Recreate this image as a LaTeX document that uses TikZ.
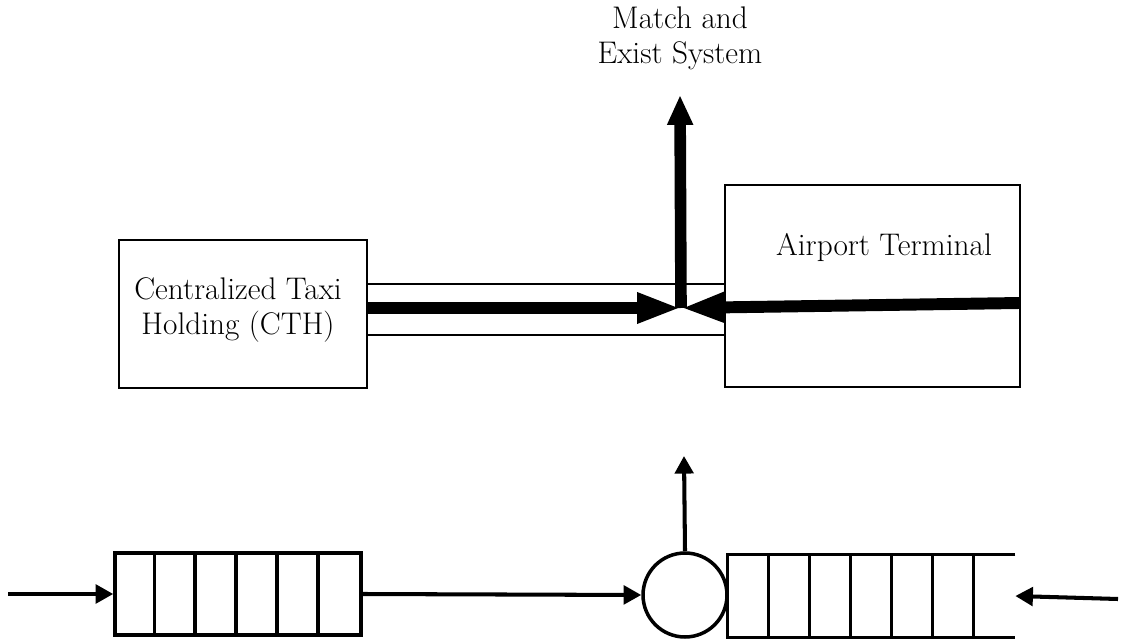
\documentclass[tikz,border=0pt]{standalone}
\usetikzlibrary{arrows.meta}

\tikzset{
    txt/.style={font=\fontsize{17.8}{20}\selectfont, align=center},
    box/.style={draw, line width=1.1pt, minimum width=#1},
    flow/.style={line width=6.8pt, -{Triangle[length=25pt,width=16pt]}},
    outflow/.style={line width=6.6pt, -{Triangle[length=17pt,width=13.7pt]}},
    link/.style={line width=2.3pt, -{Triangle[length=10pt,width=10.5pt]}},
    queue/.style={line width=2pt}
}

\begin{document}
\begin{tikzpicture}[x=0.02cm, y=-0.02cm]
        \useasboundingbox (0,0) rectangle (1128,641);

        % Physical layout
        \node[box=4.96cm, minimum height=2.96cm] (cth) at (243,314) {};
        \node[txt] (cthlabel) at (238,310) {Centralized Taxi\\Holding (CTH)};

        \node[box=5.9cm, minimum height=4.04cm] (terminal) at (872.5,286) {};
        \node[txt] (termlabel) at (884,247) {Airport Terminal};

        \node[box=7.16cm, minimum height=1.02cm] (lane) at (546,309.5) {};

        \node[txt] (match) at (680,38) {Match and\\Exist System};

        \coordinate (meet) at (681,308);
        \coordinate (curb) at (1020,303);
        \coordinate (exit) at (680,95);

        \draw[flow] (cth.east |- meet) -- (meet);
        \draw[flow] (curb) -- (meet);
        \draw[outflow] (meet) -- (exit);

        % Queueing model
        \node[draw, queue, minimum width=4.92cm, minimum height=1.64cm] (qin) at (238,594) {};
        \foreach \k in {1,...,5} {
            \draw[queue] ([xshift=\k*0.82cm]qin.north west) -- ([xshift=\k*0.82cm]qin.south west);
        }

        \node[draw, queue, circle, minimum size=1.68cm, inner sep=0pt] (srv) at (685,595) {};

        \node[minimum width=5.74cm, minimum height=1.64cm] (qout) at (871.5,596) {};
        \draw[queue] (qout.north east) -- (qout.north west) -- (qout.south west) -- (qout.south east);
        \foreach \k in {1,...,6} {
            \draw[queue] ([xshift=\k*0.82cm]qout.north west) -- ([xshift=\k*0.82cm]qout.south west);
        }

        \coordinate (taxiin) at (8,594);
        \coordinate (paxin) at (1118,599);
        \coordinate (leave) at (684,456);

        \draw[link] (taxiin) -- (qin.west);
        \draw[link] (qin.east) -- (srv.west);
        \draw[link] (srv.north) -- (leave);
        \draw[link] (paxin) -- (qout.east);
    \end{tikzpicture}
\end{document}
